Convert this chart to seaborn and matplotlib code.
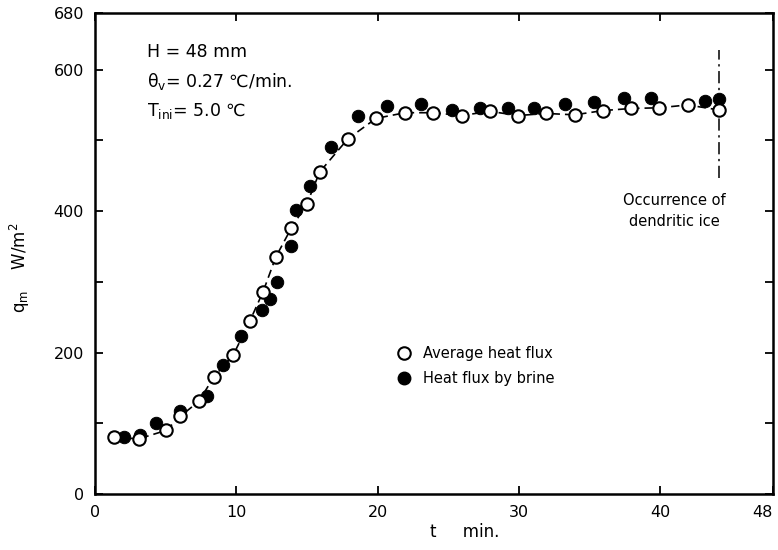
import matplotlib
matplotlib.use("Agg")
import matplotlib.pyplot as plt
import seaborn as sns
import pandas as pd
from matplotlib.lines import Line2D

# average heat flux (open circles), t in min, q in W/m2
avg_t = [1.35, 3.1, 5.05, 6.05, 7.35, 8.4, 9.8, 10.95, 11.9, 12.8, 13.9, 15.0,
         15.9, 17.9, 19.9, 21.95, 23.95, 25.95, 27.95, 29.95, 31.95, 33.95,
         35.95, 37.95, 39.95, 41.95, 44.15]
avg_q = [80, 78, 90, 110, 131, 165, 197, 244, 286, 335, 376, 410,
         455, 502, 531, 539, 539, 535, 541, 535, 538, 536,
         542, 545, 546, 550, 543]

# heat flux by brine (filled circles)
brine_t = [2.05, 3.2, 4.35, 6.05, 7.95, 9.05, 10.35, 11.8, 12.4, 12.85, 13.9,
           14.25, 15.2, 16.7, 18.6, 20.7, 23.05, 25.3, 27.25, 29.25, 31.1,
           33.25, 35.3, 37.45, 39.35, 43.15, 44.2]
brine_q = [81, 83, 100, 118, 138, 183, 224, 260, 275, 299, 351,
           402, 435, 491, 535, 549, 551, 543, 545, 545, 545,
           551, 554, 560, 560, 556, 559]

dendritic_t = 44.2
dendritic_q = [447, 628]

df_avg = pd.DataFrame({"t": avg_t, "q": avg_q})
df_brine = pd.DataFrame({"t": brine_t, "q": brine_q})

sns.set_style("ticks")
plt.rcParams["font.family"] = ["DejaVu Sans"]
plt.rcParams["text.color"] = "black"
plt.rcParams["axes.labelcolor"] = "black"
plt.rcParams["xtick.color"] = "black"
plt.rcParams["ytick.color"] = "black"

fig = plt.figure(figsize=(7.78, 5.5), dpi=100)
ax = fig.add_axes([0.1221, 0.1018, 0.8715, 0.8746])

# dashed curve through the averaged values
sns.lineplot(data=df_avg, x="t", y="q", ax=ax, color="black", lw=1.2,
             linestyle=(0, (5, 3)), zorder=1)
sns.scatterplot(data=df_brine, x="t", y="q", ax=ax, color="black",
                edgecolor="black", s=80, zorder=2)
sns.scatterplot(data=df_avg, x="t", y="q", ax=ax, color="white",
                edgecolor="black", linewidth=1.5, s=80, zorder=3)

# dendritic ice marker
ax.plot([dendritic_t, dendritic_t], dendritic_q, color="black", lw=1.1,
        linestyle=(0, (8, 3, 1.5, 3)))
ax.text(41.0, 400, "Occurrence of\ndendritic ice", ha="center", va="center",
        fontsize=10.5, linespacing=1.5)

ax.text(3.7, 625, "H = 48 mm", fontsize=12.5, va="center")
ax.text(3.7, 583, "θ$_{\\rm v}$= 0.27 ℃/min.", fontsize=12.5, va="center")
ax.text(3.7, 541, "T$_{\\rm ini}$= 5.0 ℃", fontsize=12.5, va="center")

handles = [
    Line2D([], [], marker="o", linestyle="none", markerfacecolor="white",
           markeredgecolor="black", markeredgewidth=1.5, markersize=9),
    Line2D([], [], marker="o", linestyle="none", markerfacecolor="black",
           markeredgecolor="black", markersize=9),
]
ax.legend(handles, ["Average heat flux", "Heat flux by brine"], frameon=False,
          loc="upper left", bbox_to_anchor=(0.415, 0.335), fontsize=10.5,
          handletextpad=0.3, labelspacing=0.7)

ax.set_xlim(0, 48)
ax.set_ylim(0, 680)
ax.set_xticks([0, 10, 20, 30, 40, 48])
ax.set_xticklabels(["0", "10", "20", "30", "40", "48"])
ax.get_xticklabels()[-1].set_ha("right")
ax.set_yticks([0, 100, 200, 300, 400, 500, 600, 680])
ax.set_yticklabels(["0", "", "200", "", "400", "", "600", "680"])
ax.tick_params(direction="in", length=6, width=1.3, labelsize=11.5,
               top=True, right=True, pad=8)

for sp in ax.spines.values():
    sp.set_visible(True)
    sp.set_linewidth(1.8)
    sp.set_color("black")

ax.set_xlabel("t     min.", fontsize=12, va="center")
ax.xaxis.set_label_coords(0.545, -0.08)
ax.set_ylabel("q$_{\\rm m}$    W/m$^2$", fontsize=12, va="center")
ax.yaxis.set_label_coords(-0.11, 0.47)

fig.savefig("out.png", dpi=100)
